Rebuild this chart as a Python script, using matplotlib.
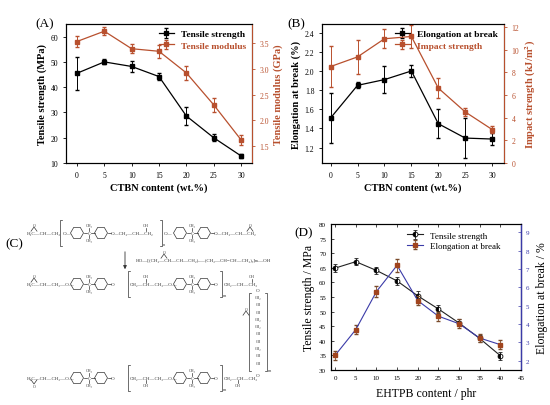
import matplotlib
matplotlib.use("Agg")
import matplotlib.pyplot as plt
import numpy as np
from matplotlib.patches import RegularPolygon

plt.rcParams['font.family'] = ['Liberation Serif', 'DejaVu Serif']
plt.rcParams['mathtext.fontset'] = 'stix'

# ---------------- data ----------------
ctbn = [0, 5, 10, 15, 20, 25, 30]
ts_a = [45.5, 50.0, 48.2, 44.2, 28.6, 20.0, 12.8]
ts_a_err = [6.5, 1.0, 2.0, 1.5, 3.5, 1.3, 0.8]
mod_a = [3.53, 3.73, 3.39, 3.34, 2.92, 2.30, 1.62]
mod_a_err = [0.10, 0.08, 0.09, 0.13, 0.13, 0.13, 0.10]

elong_b = [1.51, 1.85, 1.91, 2.00, 1.45, 1.30, 1.29]
elong_b_err = [0.26, 0.03, 0.14, 0.06, 0.15, 0.21, 0.06]
impact_b = [8.5, 9.35, 10.95, 11.15, 6.6, 4.5, 2.95]
impact_b_err = [1.8, 1.5, 0.85, 1.0, 0.9, 0.35, 0.3]

ehtpb = [0, 5, 10, 15, 20, 25, 30, 35, 40]
ts_d = [64.9, 67.1, 64.1, 60.5, 55.4, 50.9, 46.1, 40.8, 34.9]
ts_d_err = [1.3, 1.3, 1.2, 1.4, 1.5, 1.3, 1.2, 1.2, 1.4]
elong_d = [2.3, 3.7, 5.77, 7.2, 5.28, 4.43, 4.02, 3.24, 2.88]
elong_d_err = [0.25, 0.25, 0.3, 0.35, 0.25, 0.25, 0.25, 0.22, 0.25]

RED = '#b8502e'
BLUE = '#3b3ba8'
W, H = 550, 406

fig = plt.figure(figsize=(5.5, 4.06), dpi=100)


def rect(l, t, r, b):
    return [l / W, 1 - b / H, (r - l) / W, (b - t) / H]


def ptxt(x, y, s, **kw):
    fig.text(x / W, 1 - y / H, s, **kw)


# ---------------- panel A ----------------
axA = fig.add_axes(rect(66, 25, 252, 164))
axA2 = axA.twinx()
hA1 = axA.errorbar(ctbn, ts_a, yerr=ts_a_err, color='black', marker='s', ms=2.2,
                   lw=0.9, elinewidth=0.7, capsize=1.5, label='Tensile strength')
hA2 = axA2.errorbar(ctbn, mod_a, yerr=mod_a_err, color=RED, marker='s', ms=2.2,
                    lw=0.9, elinewidth=0.7, capsize=1.5, label='Tensile modulus')
axA.set_xlim(-2, 32)
axA.set_ylim(10, 65)
axA2.set_ylim(1.17, 3.87)
axA.set_xticks(range(0, 31, 5))
axA.set_yticks(range(10, 61, 10))
axA2.set_yticks([1.5, 2.0, 2.5, 3.0, 3.5])
axA.set_xlabel('CTBN content (wt.%)', fontsize=7.5, fontweight='bold', labelpad=3)
axA.set_ylabel('Tensile strength (MPa)', fontsize=7.5, fontweight='bold', labelpad=3)
axA2.set_ylabel('Tensile modulus (GPa)', fontsize=7.5, fontweight='bold', color=RED, labelpad=3)
axA.tick_params(labelsize=5.5, length=2, width=0.6)
axA2.tick_params(labelsize=5.5, length=2, width=0.6, colors=RED)
axA2.spines['right'].set_color(RED)
leg = axA.legend([hA1, hA2], ['Tensile strength', 'Tensile modulus'], loc='upper right',
                 frameon=False, prop={'size': 6.8, 'weight': 'bold'}, handlelength=1.6,
                 borderaxespad=0.2, labelspacing=0.3)
leg.get_texts()[1].set_color(RED)

# ---------------- panel B ----------------
axB = fig.add_axes(rect(322, 25, 504, 164))
axB2 = axB.twinx()
hB1 = axB.errorbar(ctbn, elong_b, yerr=elong_b_err, color='black', marker='s', ms=2.2,
                   lw=0.9, elinewidth=0.7, capsize=1.5)
hB2 = axB2.errorbar(ctbn, impact_b, yerr=impact_b_err, color=RED, marker='s', ms=2.2,
                    lw=0.9, elinewidth=0.7, capsize=1.5)
axB.set_xlim(-1.6, 32.2)
axB.set_ylim(1.04, 2.49)
axB2.set_ylim(0, 12.25)
axB.set_xticks(range(0, 31, 5))
axB.set_yticks([1.2, 1.4, 1.6, 1.8, 2.0, 2.2, 2.4])
axB2.set_yticks(range(0, 13, 2))
axB.set_xlabel('CTBN content (wt.%)', fontsize=7.5, fontweight='bold', labelpad=3)
axB.set_ylabel('Elongation at break (%)', fontsize=7.5, fontweight='bold', labelpad=3)
axB2.set_ylabel('Impact strength (kJ/m$^\\mathbf{2}$)', fontsize=7.5, fontweight='bold', color=RED, labelpad=3)
axB.tick_params(labelsize=5.5, length=2, width=0.6)
axB2.tick_params(labelsize=5.5, length=2, width=0.6, colors=RED)
axB2.spines['right'].set_color(RED)
leg = axB.legend([hB1, hB2], ['Elongation at break', 'Impact strength'], loc='upper right',
                 frameon=False, prop={'size': 6.8, 'weight': 'bold'}, handlelength=1.6,
                 borderaxespad=0.2, labelspacing=0.3)
leg.get_texts()[1].set_color(RED)

# ---------------- panel D ----------------
axD = fig.add_axes(rect(331, 225, 521, 371))
axD2 = axD.twinx()
hD1 = axD.errorbar(ehtpb, ts_d, yerr=ts_d_err, color='#222222', marker='o', ms=3.5,
                   fillstyle='left', markerfacecolor='black', markerfacecoloralt='white',
                   mec='black', mew=0.6, lw=0.8, elinewidth=0.6, capsize=1.3, zorder=3)
hD2 = axD2.errorbar(ehtpb, elong_d, yerr=elong_d_err, color=BLUE, marker='s', ms=2.2,
                    mfc='#a0441e', mec='#a0441e', ecolor='#7a4a2a', lw=0.8,
                    elinewidth=0.6, capsize=1.3)
axD.set_xlim(-1, 45)
axD.set_ylim(30, 80)
axD2.set_ylim(1.5, 9.45)
axD.set_xticks(range(0, 46, 5))
axD.set_yticks(range(30, 81, 5))
axD2.set_yticks(range(2, 10))
axD.set_xlabel('EHTPB content / phr', fontsize=8.5, labelpad=5)
axD.set_ylabel('Tensile strength / MPa', fontsize=8.5, labelpad=3)
axD2.set_ylabel('Elongation at break / %', fontsize=8.5, labelpad=5)
axD.tick_params(labelsize=5, length=2, width=0.5, direction='in', top=True)
axD2.tick_params(labelsize=5, length=2, width=0.5, direction='in', colors=BLUE)
axD2.yaxis.label.set_color('black')
axD2.spines['right'].set_color(BLUE)
axD2.spines['right'].set_linewidth(1.0)
axD.legend([hD1, hD2], ['Tensile strength', 'Elongation at break'], loc='upper right',
           frameon=False, fontsize=6.5, handlelength=1.8, borderaxespad=0.4,
           labelspacing=0.25, bbox_to_anchor=(0.93, 1.0))

# panel labels
ptxt(35, 24, '(A)', fontsize=9.5, va='center')
ptxt(287, 24, '(B)', fontsize=9.5, va='center')
ptxt(5, 244, '(C)', fontsize=9.5, va='center')
ptxt(294, 233, '(D)', fontsize=9.5, va='center')

# ---------------- panel C : reaction scheme ----------------
axC = fig.add_axes([0, 0, 1, 1], zorder=-1)
axC.set_xlim(0, W)
axC.set_ylim(H, 0)
axC.axis('off')
CC = '#333333'
FS = 3.6


def t(x, y, s, ha='left', fs=FS):
    axC.text(x, y, s, fontsize=fs, ha=ha, va='center', color=CC)


def ln(xs, ys, lw=0.5):
    axC.plot(xs, ys, color=CC, lw=lw)


def hexa(x, y):
    axC.add_patch(RegularPolygon((x, y), 6, radius=6.5, orientation=np.pi / 6,
                                 fill=False, lw=0.5, ec=CC))


def bis(x, y):
    hexa(x, y)
    ln([x + 6.5, x + 10], [y, y])
    t(x + 12, y, 'C', ha='center')
    ln([x + 12, x + 12], [y - 2, y - 5])
    ln([x + 12, x + 12], [y + 2, y + 5])
    t(x + 12, y - 7.5, 'CH₃', ha='center', fs=3.0)
    t(x + 12, y + 7.5, 'CH₃', ha='center', fs=3.0)
    ln([x + 14, x + 17.5], [y, y])
    hexa(x + 24, y)
    ln([x + 30.5, x + 34], [y, y])


def bracket(x, y, side, h=13):
    d = 2 if side == 'l' else -2
    ln([x + d, x, x, x + d], [y - h, y - h, y + h, y + h])


def epox(x, y, up=True):
    dy = -6 if up else 6
    ln([x, x + 3, x + 6], [y + dy * 0.3, y + dy, y + dy * 0.3])
    t(x + 3, y + dy * 1.35, 'O', ha='center', fs=3.0)


# row 1
y1 = 234
t(27, y1, 'H₂C—CH—CH₂')
epox(31, y1)
bracket(60, y1, 'l')
t(63, y1, 'O—')
bis(77, y1)
t(111, y1, 'O—CH₂—CH—CH₂')
t(146, y1 - 7.5, 'OH', ha='center', fs=3.0)
ln([146, 146], [y1 - 5, y1 - 2])
bracket(162, y1, 'r')
t(163, y1 + 11, 'n', fs=3.0)
t(164, y1, 'O—')
bis(180, y1)
t(214, y1, 'O—CH₂—CH—CH₂')
epox(247, y1)

# arrow and reagent
axC.annotate('', xy=(125, 273), xytext=(125, 250),
             arrowprops=dict(arrowstyle='-|>', color=CC, lw=0.6, mutation_scale=5))
t(136, 261, 'HO—[(CH₂—CH—CH—CH₂)ₓ—(CH₂—CH=CH—CH₂)ᵧ]ₘ—OH')
epox(161, 261)

# row 2
y2 = 285
t(27, y2, 'H₂C—CH—CH₂—O—')
epox(31, y2)
bis(77, y2)
t(111, y2, 'O')
bracket(128, y2, 'l')
t(130, y2, 'CH₂—CH—CH₂—O—')
t(146, y2 - 7.5, 'OH', ha='center', fs=3.0)
ln([146, 146], [y2 - 5, y2 - 2])
bis(180, y2)
t(214, y2, 'O')
bracket(222, y2, 'r')
t(223, y2 + 11, 'm', fs=3.0)
t(224, y2, 'CH₂—CH—CH₂')
t(252, y2 - 7.5, 'OH', ha='center', fs=3.0)
ln([252, 252], [y2 - 5, y2 - 2])

# pendant chain
t(258, 291, 'O', ha='center')
ln([251, 249, 249, 251], [294, 294, 372, 372])
ln([265, 267, 267, 265], [294, 294, 372, 372])
chain = ['CH₂', 'CH', 'CH', 'CH₂', 'CH₂', 'CH', 'CH', 'CH₂', 'CH', 'CH']
for i, s in enumerate(chain):
    t(258, 298 + i * 7.3, s, ha='center', fs=2.8)
epox(243, 318)
t(268, 371, 'm', fs=3.0)
t(258, 376, 'O', ha='center')

# row 3
y3 = 379
t(27, y3, 'H₂C—CH—CH₂—O—')
epox(31, y3, up=False)
bis(77, y3)
t(111, y3, 'O')
bracket(128, y3, 'l')
t(130, y3, 'CH₂—CH—CH₂—O—')
t(146, y3 + 7.5, 'OH', ha='center', fs=3.0)
ln([146, 146], [y3 + 5, y3 + 2])
bis(180, y3)
t(214, y3, 'O')
bracket(222, y3, 'r')
t(223, y3 + 11, 'm', fs=3.0)
t(224, y3, 'CH₂—CH—CH₂')
t(238, y3 + 7.5, 'OH', ha='center', fs=3.0)
ln([238, 238], [y3 + 5, y3 + 2])

fig.savefig('out.png', dpi=100)
